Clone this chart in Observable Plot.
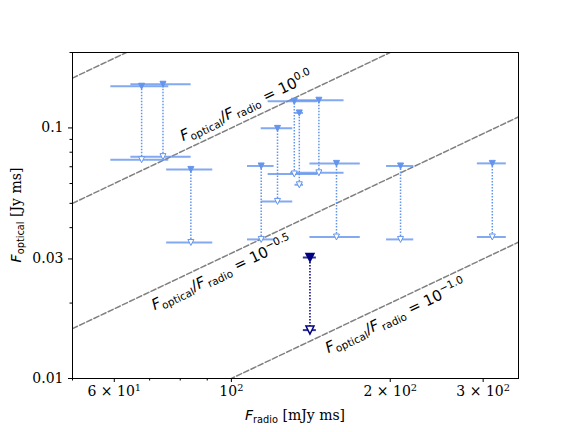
<!DOCTYPE html>
<html><head><meta charset="utf-8">
<script src="https://cdn.jsdelivr.net/npm/d3@7"></script>
<script src="https://cdn.jsdelivr.net/npm/@observablehq/plot@0.6"></script>
<style>
body{margin:0;background:#fff;}
</style></head><body><div id="chart"></div>
<script>
// ---- data ----
const fRadio    = [67.6, 74.2, 83.8, 113.9, 122.3, 131.6, 134.5, 146.5, 158.2, 209.2, 312.2];
const fRadioErr = [8.5, 9.7, 8.4, 6.6, 8.4, 14.2, 2.5, 17.0, 17.3, 12.4, 19.7];
const fOptHigh  = [0.1467, 0.1494, 0.0683, 0.0705, 0.0996, 0.1278, 0.1148, 0.1290, 0.0722, 0.0705, 0.0722];
const fOptLow   = [0.0747, 0.0768, 0.0349, 0.0359, 0.0509, 0.0655, 0.0593, 0.0662, 0.0367, 0.0359, 0.0367];
const hlRadio    = [140.9];
const hlRadioErr = [4.0];
const hlHigh     = [0.0304];
const hlLow      = [0.0156];
const ratioExps  = [0.5, 0.0, -0.5, -1.0];
const labelExps  = ["0.0", "\u22120.5", "\u22121.0"];
const labelX     = [106.7, 95.8, 204.6];
const labelY     = [0.1225, 0.02637, 0.01775];
const xTicks     = [60, 100, 200, 300];
const xTickMant  = ["6", "", "2", "3"];
const xTickExp   = ["1", "2", "2", "2"];
const xMinor     = [50, 70, 80, 90];
const yTicks      = [0.01, 0.03, 0.1];
const yTickLabels = ["0.01", "0.03", "0.1"];
const yMinor      = [0.02, 0.04, 0.05, 0.06, 0.07, 0.08, 0.09, 0.2];
const xDomain = [50, 350];
const yDomain = [0.01, 0.2];

// ---- layout ----
const W = 576, H = 432, ML = 72, MR = 58, MT = 52, MB = 54;
const innerW = W - ML - MR, innerH = H - MT - MB;
const angle = Math.atan((innerH / Math.log10(yDomain[1] / yDomain[0])) /
                        (innerW / Math.log10(xDomain[1] / xDomain[0]))) * 180 / Math.PI;

const blue = "#6495ED", navy = "#000080";
const serif = "DejaVu Serif", sans = "DejaVu Sans";

const pts = fRadio.map((x, i) => ({x, err: fRadioErr[i], hi: fOptHigh[i], lo: fOptLow[i]}));
const hl  = hlRadio.map((x, i) => ({x, err: hlRadioErr[i], hi: hlHigh[i], lo: hlLow[i]}));
const ratioLines = ratioExps.flatMap(e => xDomain.map(x => ({x, y: Math.pow(10, e) * x / 1000, e})));
const labelRows = labelExps.map((e, i) => ({x: labelX[i], y: labelY[i], e, i}));

const triDown = {
  draw(ctx, size) {
    const r = Math.sqrt(size / Math.PI);
    ctx.moveTo(0, r);
    ctx.lineTo(-r, -r);
    ctx.lineTo(r, -r);
    ctx.closePath();
  }
};

function group(data, color, r, sw, barW) {
  return [
    Plot.ruleY(data, {y: "hi", x1: d => d.x - d.err, x2: d => d.x + d.err, stroke: color, strokeWidth: barW, strokeOpacity: 0.8}),
    Plot.ruleY(data, {y: "lo", x1: d => d.x - d.err, x2: d => d.x + d.err, stroke: color, strokeWidth: barW, strokeOpacity: 0.8}),
    Plot.ruleX(data, {x: "x", y1: "lo", y2: "hi", stroke: color, strokeWidth: 1.5, strokeDasharray: "1.5,1.5"}),
    Plot.dot(data, {x: "x", y: "hi", symbol: triDown, r, fill: color, stroke: color, strokeWidth: sw}),
    Plot.dot(data, {x: "x", y: "lo", symbol: triDown, r, fill: "white", stroke: color, strokeWidth: sw})
  ];
}

const plot = Plot.plot({
  width: W, height: H,
  marginLeft: ML, marginRight: MR, marginTop: MT, marginBottom: MB,
  style: {fontFamily: serif, fontSize: "14px", background: "white", color: "black"},
  x: {type: "log", domain: xDomain},
  y: {type: "log", domain: yDomain},
  marks: [
    Plot.line(ratioLines, {x: "x", y: "y", z: "e", stroke: "#808080", strokeWidth: 1.5, strokeDasharray: "5.5,2.4", clip: true}),
    ...group(pts, blue, 3, 1, 2),
    ...group(hl, navy, 4, 1.5, 2),
    Plot.text(labelRows, {x: "x", y: "y", text: d => "RATIO#" + d.i, rotate: -angle,
      fontSize: 15, fontFamily: sans, fill: "black", textAnchor: "middle", lineAnchor: "middle"}),
    Plot.axisX(xMinor, {tickSize: 2.5, tickFormat: () => "", label: null}),
    Plot.axisX(xTicks, {tickSize: 4, tickPadding: 4, tickFormat: d => "XT#" + xTicks.indexOf(d), label: null, fontSize: 14}),
    Plot.axisY(yMinor, {tickSize: 2.5, tickFormat: () => "", label: null}),
    Plot.axisY(yTicks, {tickSize: 4, tickPadding: 5, tickFormat: d => yTickLabels[yTicks.indexOf(d)], label: null, fontSize: 14}),
    Plot.frame({stroke: "black", strokeWidth: 1})
  ]
});

function rich(sel, parts, fs, baseFamily) {
  sel.text(null);
  let shift = 0;
  for (const p of parts) {
    const t = sel.append("tspan").text(p.t);
    const target = p.sub ? 0.22 * fs : p.sup ? -0.42 * fs : 0;
    const dy = target - shift;
    if (dy) t.attr("dy", dy);
    shift = target;
    if (p.sub || p.sup) t.attr("font-size", 0.7 * fs);
    if (p.it) t.attr("font-style", "italic");
    t.attr("font-family", p.serif ? serif : (p.sans ? sans : baseFamily));
  }
}
const ratioParts = e => [
  {t: "F", it: true}, {t: "optical", sub: true}, {t: "/"}, {t: "F", it: true},
  {t: "\u2009radio", sub: true}, {t: " = 10"}, {t: e, sup: true}
];

const svg = d3.select(plot);
svg.selectAll("text").each(function() {
  const s = this.textContent;
  if (s.startsWith("RATIO#")) {
    const i = +s.slice(6);
    rich(d3.select(this), ratioParts(labelExps[i]), 15, sans);
  } else if (s.startsWith("XT#")) {
    const i = +s.slice(3);
    const parts = [];
    if (xTickMant[i]) parts.push({t: xTickMant[i] + " \u00d7 "});
    parts.push({t: "10"}, {t: xTickExp[i], sup: true});
    rich(d3.select(this), parts, 14, serif);
  }
});

const xl = svg.append("text")
  .attr("x", ML + innerW / 2).attr("y", H - 12)
  .attr("text-anchor", "middle").attr("font-size", 14).attr("fill", "black");
rich(xl, [{t: "F", it: true}, {t: "radio", sub: true}, {t: " [mJy ms]", serif: true}], 14, sans);

const yl = svg.append("text")
  .attr("transform", `translate(21,${MT + innerH / 2}) rotate(-90)`)
  .attr("text-anchor", "middle").attr("font-size", 14).attr("fill", "black");
rich(yl, [{t: "F", it: true}, {t: "optical", sub: true}, {t: " [Jy ms]", serif: true}], 14, sans);

document.getElementById("chart").appendChild(plot);
</script>
</body></html>
